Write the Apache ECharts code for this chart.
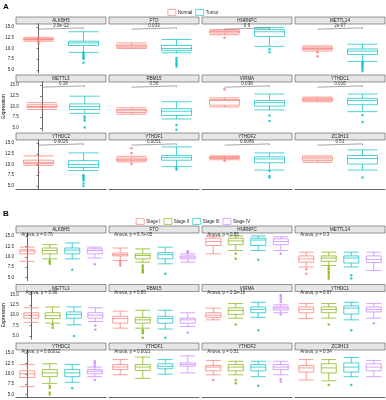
<!DOCTYPE html>
<html><head><meta charset="utf-8">
<script src="https://cdn.jsdelivr.net/npm/echarts@6/dist/echarts.min.js"></script>
<style>html,body{margin:0;padding:0;background:#fff}#c{width:386px;height:400px}</style>
</head><body><div id="c"></div>
<script>
const genes = ['ALKBH5','FTO','HNRNPC','METTL14','METTL3','RBM15','VIRMA','YTHDC1','YTHDC2','YTHDF1','YTHDF2','ZC3H13'];
const groupsA = ['Normal','Tumor'];
const groupsB = ['Stage I','Stage II','Stage III','Stage IV'];
const yTicks = [5.0, 7.5, 10.0, 12.5, 15.0];
const pA = ['2.9e-12','0.033','0.9','2e-07','0.18','0.56','0.038','0.016','0.0026','0.0051','0.0086','0.51'];
const pB = ['0.76','6.7e-05','0.95','0.3','0.96','0.85','2.2e-16','0.97','0.00032','0.0021','0.51','0.34'];

// [min, Q1, median, Q3, max] per gene
const boxNormal = [[11.7,12.0,12.1,12.3,12.6],[10.0,10.3,10.6,10.8,11.3],[13.2,13.6,13.9,14.1,14.4],[9.4,9.8,10.0,10.3,10.6],
  [9.3,9.8,10.0,10.4,10.9],[8.2,8.6,9.0,9.3,9.7],[9.9,10.3,11.4,11.6,12.0],[11.1,11.4,11.7,11.9,12.2],
  [9.8,10.2,10.5,11.0,12.0],[10.6,10.9,11.2,11.5,11.9],[11.1,11.4,11.6,11.8,12.0],[10.5,10.9,11.3,11.7,12.0]];
const outNormal = [[11.5,11.1],[],[12.5],[9.1,8.2],[],[],[14.0],[],[8.2],[13.8,12.7,10.1],[10.9],[]];
const boxTumor = [[9.1,10.7,11.3,11.7,13.9],[9.0,9.5,10.0,10.7,12.1],[10.5,12.8,13.9,14.4,14.9],[7.0,8.6,9.4,9.9,11.0],
  [8.4,9.3,10.0,10.6,12.4],[7.1,7.9,8.9,9.5,11.1],[9.2,10.1,10.9,11.4,12.9],[8.8,10.4,11.4,11.9,12.9],
  [8.6,9.3,10.0,10.9,12.7],[9.5,11.0,11.6,12.1,14.1],[8.7,10.4,11.3,11.8,12.7],[8.7,10.1,11.4,12.1,13.4]];
const outTumor = [[9.0,8.7,8.4,8.1,7.8,7.6,6.7],[7.8,7.3,6.9,6.5,6.2,5.8],[9.8,9.1],[6.8,6.5,6.2,5.9,5.6,5.2,4.7],
  [7.7,7.2,6.7,5.1],[5.7,4.6],[7.9,6.6],[8.0,6.4],[7.5,7.2,6.9,6.6,6.3,5.6,5.0],[9.2,8.8],[8.5,7.3,7.0],[7.0]];

const boxStage1 = [[8.9,10.7,11.35,11.7,12.3],[9.1,10.2,10.5,10.9,12.1],[10.7,12.7,13.65,14.45,14.9],[7.55,8.7,9.5,10.2,11.1],
  [8.3,9.3,10.0,10.6,11.8],[6.9,8.1,9.2,9.75,11.0],[8.9,9.5,10.0,10.6,11.7],[9.2,10.6,11.4,12.0,12.8],
  [6.9,9.1,10.0,10.7,12.2],[9.75,11.0,11.6,12.2,13.4],[9.75,10.7,11.6,12.0,13.2],[8.5,10.4,11.4,12.0,13.4]];
const outStage1 = [[],[8.9,8.4,7.9],[],[7.0,5.95],[],[],[],[],[],[],[8.5],[]];
const boxStage2 = [[9.5,10.7,11.5,12.1,12.9],[8.7,9.5,10.3,10.7,11.9],[11.5,12.9,13.8,14.45,15.0],[7.9,8.9,9.7,10.2,11.1],
  [8.1,9.2,9.9,10.6,12.0],[6.9,8.1,8.9,9.5,11.2],[9.3,10.2,11.2,11.8,12.8],[9.3,10.6,11.4,12.0,12.8],
  [7.7,9.3,10.2,11.0,12.4],[8.9,10.8,11.6,12.2,14.0],[9.75,10.7,11.6,12.2,13.0],[8.3,10.2,11.4,12.4,13.4]];
const outStage2 = [[9.1,8.7,8.3],[7.9,7.4,6.9,6.5,6.2],[10.7,9.5],[7.5,7.0,6.4,5.9,5.3,4.8],[7.7,7.0],[6.5,6.1,5.7,4.6],
  [7.8],[7.8],[7.1,6.6,5.5,5.0],[],[8.5,7.7],[7.3]];
const boxStage3 = [[9.5,10.7,11.6,12.1,13.3],[8.3,9.5,10.5,11.0,12.3],[11.5,12.7,14.0,14.45,15.0],[7.55,8.5,9.7,10.2,11.1],
  [7.7,9.3,10.2,10.8,12.0],[6.7,8.1,9.2,9.75,11.2],[9.5,10.6,11.4,12.0,13.1],[8.9,10.3,11.7,12.25,13.1],
  [7.95,9.3,10.2,11.0,12.2],[9.9,11.2,11.8,12.4,13.4],[9.3,10.7,11.6,12.2,13.0],[9.3,10.4,11.6,12.6,13.9]];
const outStage3 = [[6.9],[5.95],[9.3],[5.55,4.8],[5.0],[4.6],[6.4],[6.4],[6.5],[],[7.1],[7.3]];
const boxStage4 = [[9.7,10.7,11.5,11.9,12.3],[8.7,9.5,9.9,10.2,10.7],[11.5,12.9,13.65,14.3,14.8],[6.7,8.6,9.35,10.2,11.1],
  [8.5,9.3,10.0,10.6,11.8],[7.3,8.1,8.9,9.3,10.6],[10.6,11.25,11.7,12.0,12.5],[9.3,10.8,11.4,12.0,12.8],
  [9.3,10.0,10.6,11.0,11.6],[10.2,11.8,12.2,12.6,14.3],[9.75,11.0,11.6,12.2,13.0],[9.3,10.7,11.6,12.4,13.2]];
const outStage4 = [[8.2],[11.3,11.0],[10.7],[],[7.5,6.5],[5.8],[13.2,13.8,14.3,14.8,10.2],[8.1],[13.0,12.5,11.9,8.5],[],[8.7,8.1],[]];

const colorsA = ['#F8766D','#00BFC4'];
const colorsB = ['#F8766D','#7CAE00','#00BFC4','#C77CFF'];
const FONT = 'Liberation Sans';

const grids = [], xAxes = [], yAxes = [], series = [], graphics = [];
const colLeft = [16, 109, 202, 295], colW = 90;

function panel(offset, groups, boxes, outs, colors, stripTops, plotH, boxW, mode, pvals) {
  genes.forEach((gene, g) => {
    const r = Math.floor(g / 4), c = g % 4;
    const gi = offset + g;
    const top = stripTops[r] + 7;
    grids.push({left: colLeft[c], top: top, width: colW, height: plotH});
    graphics.push({type:'rect', shape:{x: colLeft[c], y: stripTops[r], width: colW, height: 7},
      style:{fill:'#e6e6e6', stroke:'#333', lineWidth:0.5}, silent:true});
    graphics.push({type:'text', x: colLeft[c] + colW/2, y: stripTops[r] + 3.8,
      style:{text: gene, fontSize: 4.5, fill:'#222', align:'center', verticalAlign:'middle', fontFamily: FONT}, silent:true});
    xAxes.push({type:'category', gridIndex: gi, data: groups, boundaryGap: true,
      axisLine:{show: r === 2, lineStyle:{color:'#000', width:0.6}}, axisTick:{show:false}, axisLabel:{show:false}});
    xAxes.push({type:'value', gridIndex: gi, min: -0.5, max: groups.length - 0.5, show: false});
    const ya = {type:'value', gridIndex: gi, min: 4.3, max: 15.7, splitLine:{show:false}, show: c === 0,
      axisLine:{show:true, lineStyle:{color:'#000', width:0.6}},
      axisTick:{show:true, length:2, customValues: yTicks, lineStyle:{color:'#000', width:0.5}},
      axisLabel:{show:true, customValues: yTicks, fontSize: 4.5, margin: 2, color:'#222', fontFamily: FONT,
        formatter: v => v.toFixed(1)}};
    if (c === 0 && r === 1) {
      ya.name = 'Expression'; ya.nameLocation = 'middle'; ya.nameGap = 12;
      ya.nameTextStyle = {fontSize: 5, color:'#000', fontFamily: FONT};
    }
    yAxes.push(ya);
    series.push({type:'boxplot', xAxisIndex: 2*gi, yAxisIndex: gi, boxWidth:[boxW, boxW], silent:true,
      data: groups.map((_, i) => ({value: boxes[i][g],
        itemStyle:{color:'rgba(255,255,255,0)', borderColor: colors[i], borderWidth: 0.7}}))});
    groups.forEach((grp, i) => {
      series.push({type:'scatter', name: grp, xAxisIndex: 2*gi, yAxisIndex: gi, symbolSize: 2.5, silent:true,
        itemStyle:{color: colors[i]}, data: outs[i][g].map(v => [i, v])});
    });
    if (mode === 'A') {
      series.push({type:'line', xAxisIndex: 2*gi+1, yAxisIndex: gi, symbol:'none', silent:true,
        lineStyle:{color:'#666', width:0.6}, data: [[0,14.5],[0,14.8],[1,14.8],[1,14.5]]});
      series.push({type:'scatter', xAxisIndex: 2*gi+1, yAxisIndex: gi, symbolSize: 0.1, silent:true,
        itemStyle:{color:'rgba(0,0,0,0)'}, data: [[0.5, 15.35]],
        label:{show:true, position:'inside', formatter: pvals[g], fontSize: 4.5, color:'#000', fontFamily: FONT}});
    } else {
      const txt = pvals[g] === '2.2e-16' ? 'Anova, p < 2.2e-16' : 'Anova, p = ' + pvals[g];
      series.push({type:'scatter', xAxisIndex: 2*gi+1, yAxisIndex: gi, symbolSize: 0.1, silent:true,
        itemStyle:{color:'rgba(0,0,0,0)'}, data: [[-0.27, 15.35]],
        label:{show:true, position:'inside', align:'left', formatter: txt, fontSize: 4.5, color:'#000', fontFamily: FONT}});
    }
  });
}

panel(0, groupsA, [boxNormal, boxTumor], [outNormal, outTumor], colorsA, [17, 75, 133], 49, 30, 'A', pA);
panel(12, groupsB, [boxStage1, boxStage2, boxStage3, boxStage4], [outStage1, outStage2, outStage3, outStage4],
  colorsB, [226, 284.5, 343], 47.5, 15, 'B', pB);

graphics.push({type:'text', x: 3, y: 3, style:{text:'A', fontSize: 8, fontWeight:'bold', fill:'#000', fontFamily: FONT}});
graphics.push({type:'text', x: 3, y: 210, style:{text:'B', fontSize: 8, fontWeight:'bold', fill:'#000', fontFamily: FONT}});

function legendItems(groups, colors) {
  return groups.map((g, i) => ({name: g, icon:'rect',
    itemStyle:{color:'#fff', borderColor: colors[i], borderWidth: 0.8}}));
}
const legendBase = {left:'center', itemWidth: 8, itemHeight: 6, itemGap: 3, selectedMode:false,
  textStyle:{fontSize: 4.5, color:'#222', fontFamily: FONT, padding:[0,0,0,-3]}};

const chart = echarts.init(document.getElementById('c'), null, {renderer:'canvas'});
chart.setOption({
  animation: false,
  textStyle: {fontFamily: FONT},
  legend: [Object.assign({}, legendBase, {top: 4, data: legendItems(groupsA, colorsA)}),
           Object.assign({}, legendBase, {top: 213, data: legendItems(groupsB, colorsB)})],
  grid: grids, xAxis: xAxes, yAxis: yAxes, series: series, graphic: graphics
});
</script></body></html>
